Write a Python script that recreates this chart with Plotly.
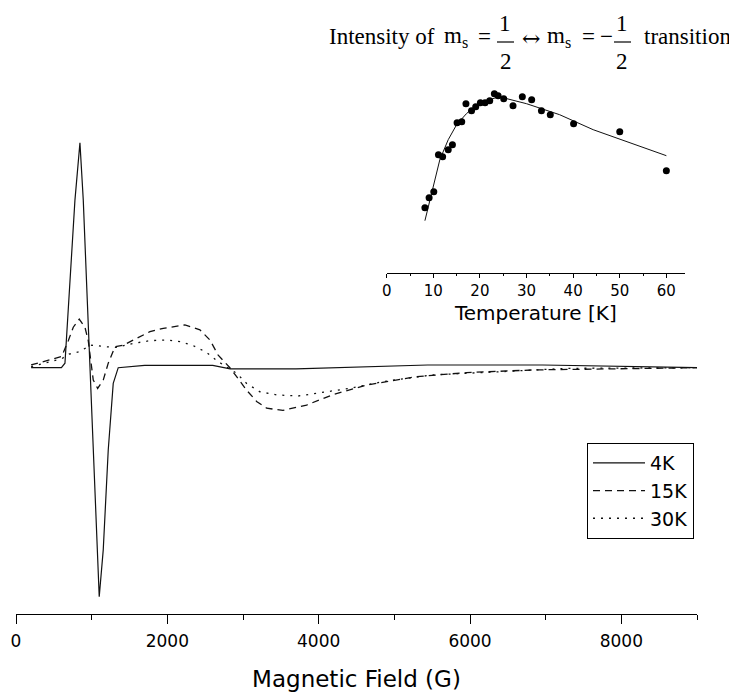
import plotly.graph_objects as go

# EPR spectra, baseline-subtracted, normalised to the 4K peak
field_4k = [200, 600, 647, 713, 779, 845, 889, 942, 978, 1021, 1066, 1100, 1153, 1219, 1285, 1351,
            1700, 2600, 2830, 3700, 5440, 6960, 9000]
signal_4k = [0, 0, 0.02, 0.36, 0.745, 1.0, 0.745, 0.30, 0.0, -0.44, -0.81, -1.018, -0.81, -0.366, -0.07, 0,
             0.01, 0.01, -0.005, -0.005, 0.012, 0.012, 0.0]

field_15k = [200, 361, 604, 691, 757, 836, 911, 955, 1000, 1021, 1079, 1153, 1219, 1308, 1417, 1594,
             1770, 1946, 2123, 2232, 2431, 2563, 2672, 2827, 2916, 3048, 3180, 3312, 3527, 3840,
             4188, 4633, 5293, 5954, 6830, 7715, 9000]
signal_15k = [0.012, 0.027, 0.05, 0.12, 0.18, 0.216, 0.18, 0.12, 0.0, -0.055, -0.092, -0.055, 0.02, 0.093, 0.10, 0.13,
              0.16, 0.175, 0.185, 0.19, 0.168, 0.123, 0.056, 0.0, -0.04, -0.10, -0.15, -0.18, -0.19, -0.166,
              -0.12, -0.077, -0.04, -0.022, -0.01, -0.005, 0.0]

field_30k = [200, 604, 700, 823, 955, 1000, 1198, 1330, 1550, 1770, 1991, 2166, 2342, 2519, 2672, 2805,
             2916, 3048, 3223, 3444, 3729, 4104, 4412, 4848, 5509, 6394, 7275, 9000]
signal_30k = [0.005, 0.04, 0.06, 0.07, 0.093, 0.10, 0.093, 0.09, 0.108, 0.12, 0.123, 0.116, 0.098, 0.068, 0.027, 0.0,
              -0.025, -0.07, -0.107, -0.121, -0.126, -0.107, -0.092, -0.062, -0.032, -0.018, -0.003, 0.0]

# inset: intensity of the ms=1/2 <-> ms=-1/2 transition vs temperature
temp_pts = [8.2, 9.1, 10.1, 11.1, 12.0, 13.2, 14.1, 15.1, 16.1, 17.0, 18.2, 19.1, 20.1, 21.1, 22.1,
            23.1, 23.9, 25.1, 27.1, 29.1, 31.1, 33.2, 35.1, 40.1, 50.0, 60.0]
intensity_pts = [0.65, 0.75, 0.81, 1.18, 1.16, 1.23, 1.28, 1.50, 1.51, 1.69, 1.62, 1.66, 1.70, 1.70, 1.72,
                 1.79, 1.77, 1.74, 1.67, 1.76, 1.73, 1.62, 1.58, 1.49, 1.41, 1.02]
temp_fit = [8.2, 9.6, 11.4, 13.2, 15.0, 17.1, 19.3, 21.4, 23.6, 24.1, 30.0, 37.1, 44.3, 51.4, 60.0]
intensity_fit = [0.52, 0.79, 1.13, 1.33, 1.48, 1.59, 1.68, 1.72, 1.75, 1.76, 1.69, 1.58, 1.43, 1.31, 1.17]

SANS = "DejaVu Sans, Arial, sans-serif"
SERIF = "Liberation Serif, Times New Roman, serif"

# the page has an 8px body margin, so the figure is 8px smaller and sits at (8, 8).
# helpers take page pixels; plot area is page x 16..697, y 8..614
def px(x):
    return (x - 16) / 681.0

def py(y):
    return (614 - y) / 606.0

fig = go.Figure()

fig.add_trace(go.Scatter(x=field_4k, y=signal_4k, name='4K', mode='lines',
                         line=dict(color='#111111', width=1.2)))
fig.add_trace(go.Scatter(x=field_15k, y=signal_15k, name='15K', mode='lines',
                         line=dict(color='#111111', width=1.3, dash='7px,5px')))
fig.add_trace(go.Scatter(x=field_30k, y=signal_30k, name='30K', mode='lines',
                         line=dict(color='#111111', width=1.3, dash='2px,6px')))

# inset
fig.add_trace(go.Scatter(x=temp_fit, y=intensity_fit, mode='lines', showlegend=False,
                         line=dict(color='#111111', width=1), xaxis='x2', yaxis='y2'))
fig.add_trace(go.Scatter(x=temp_pts, y=intensity_pts, mode='markers', showlegend=False,
                         marker=dict(color='black', size=7), xaxis='x2', yaxis='y2'))

# inset title, built from pieces so the fractions stack
title_parts = [
    ("Intensity of", 328, 37, 'left', SERIF, 23),
    ("m<sub>s</sub>", 443, 37, 'left', SERIF, 23),
    ("=", 484, 37, 'center', SERIF, 23),
    ("1", 505, 23, 'center', SERIF, 23),
    ("2", 506, 61, 'center', SERIF, 23),
    ("\u2194", 531, 38, 'center', "DejaVu Serif, serif", 22),
    ("m<sub>s</sub>", 546, 37, 'left', SERIF, 23),
    ("=", 588, 37, 'center', SERIF, 23),
    ("\u2212", 606, 37, 'center', SERIF, 23),
    ("1", 622, 23, 'center', SERIF, 23),
    ("2", 622, 61, 'center', SERIF, 23),
    ("transition", 732, 37, 'right', SERIF, 23),
]
annotations = []
for text, x, y, anchor, family, size in title_parts:
    annotations.append(dict(text=text, x=px(x), y=py(y), xref='paper', yref='paper',
                            xanchor=anchor, yanchor='middle', showarrow=False, borderpad=0,
                            font=dict(family=family, size=size, color='black')))

shapes = [
    dict(type='line', xref='paper', yref='paper', x0=px(497), x1=px(514), y0=py(42), y1=py(42),
         line=dict(color='black', width=1.2)),
    dict(type='line', xref='paper', yref='paper', x0=px(614), x1=px(631), y0=py(42), y1=py(42),
         line=dict(color='black', width=1.2)),
]

fig.update_layout(
    width=729, height=685,
    margin=dict(l=8, r=40, t=0, b=79),
    paper_bgcolor='white', plot_bgcolor='white',
    font=dict(family=SANS, color='black'),
    showlegend=True,
    legend=dict(x=px(587), y=py(443), xanchor='left', yanchor='top',
                bordercolor='black', borderwidth=1, bgcolor='white',
                font=dict(family=SANS, size=19), tracegroupgap=0, itemwidth=52),
    xaxis=dict(range=[0, 9000], dtick=2000, tick0=0, ticks='outside', ticklen=9, tickwidth=1,
               tickcolor='black', showline=True, linecolor='black', linewidth=1.3,
               showgrid=False, zeroline=False, tickfont=dict(size=17, family=SANS),
               ticklabelstandoff=2,
               minor=dict(dtick=1000, ticks='outside', ticklen=5, tickcolor='black'),
               title=dict(text='Magnetic Field (G)', font=dict(size=23, family=SANS), standoff=21)),
    yaxis=dict(range=[-1.095, 1.599], visible=False, showgrid=False, zeroline=False),
    xaxis2=dict(domain=[px(386.7), px(685)], anchor='y2', range=[0, 64], dtick=10,
                ticks='outside', ticklen=4, tickcolor='black', showline=True, linecolor='black',
                linewidth=1, showgrid=False, zeroline=False, tickfont=dict(size=15, family=SANS),
                minor=dict(dtick=5, ticks='outside', ticklen=2, tickcolor='black'),
                title=dict(text='Temperature [K]', font=dict(size=20, family=SANS), standoff=7)),
    yaxis2=dict(domain=[py(272.7), py(80)], anchor='x2', range=[0, 1.927], visible=False,
                showgrid=False, zeroline=False),
    annotations=annotations,
    shapes=shapes,
)

fig.write_html("out.html")
